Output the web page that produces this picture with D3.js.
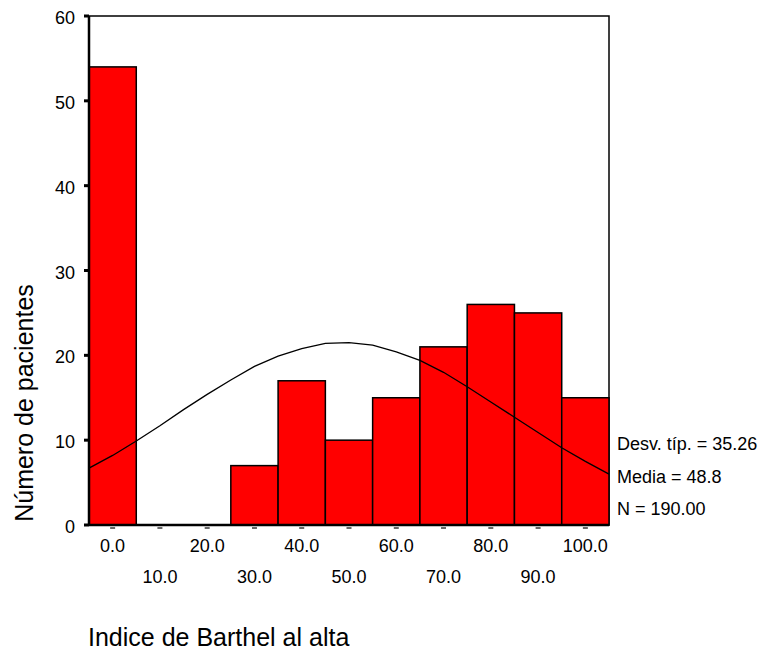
<!DOCTYPE html>
<html>
<head>
<meta charset="utf-8">
<script src="https://cdn.jsdelivr.net/npm/d3@7"></script>
<style>
  body { margin: 0; background: #fff; }
  svg text { font-family: "Liberation Sans", Arial, sans-serif; fill: #000; }
</style>
</head>
<body>
<div id="chart"></div>
<script>
// histogram bins (midpoints) and counts
const bins = [0, 10, 20, 30, 40, 50, 60, 70, 80, 90, 100];
const counts = [54, 0, 0, 7, 17, 10, 15, 21, 26, 25, 15];
// normal curve
const curveX = [-5, 0, 5, 10, 15, 20, 25, 30, 35, 40, 45, 50, 55, 60, 65, 70, 75, 80, 85, 90, 95, 100, 105];
const curveY = [6.7, 8.2, 9.9, 11.7, 13.6, 15.4, 17.1, 18.7, 19.9, 20.8, 21.4, 21.5, 21.2, 20.4, 19.4, 18.0, 16.3, 14.5, 12.7, 10.9, 9.1, 7.5, 6.0];
const yTicks = [0, 10, 20, 30, 40, 50, 60];
const statLines = ["Desv. típ. = 35.26", "Media = 48.8", "N = 190.00"];

const width = 770, height = 652;
const plotLeft = 89, plotRight = 609, plotTop = 16, plotBottom = 525;

const svg = d3.select("#chart").append("svg")
    .attr("width", width)
    .attr("height", height);

const x = d3.scaleLinear().domain([-5, 105]).range([plotLeft, plotRight]);
const y = d3.scaleLinear().domain([0, 60]).range([plotBottom, plotTop]);
const binW = x(10) - x(0);

// frame
svg.append("rect")
    .attr("x", plotLeft).attr("y", plotTop)
    .attr("width", plotRight - plotLeft).attr("height", plotBottom - plotTop)
    .attr("fill", "none").attr("stroke", "#000").attr("stroke-width", 1.5);

// bars
svg.append("g")
    .selectAll("rect")
    .data(bins.map((b, i) => ({ b, c: counts[i] })).filter((d) => d.c > 0))
    .join("rect")
    .attr("x", (d) => x(d.b) - binW / 2)
    .attr("y", (d) => y(d.c))
    .attr("width", binW)
    .attr("height", (d) => y(0) - y(d.c))
    .attr("fill", "#ff0000")
    .attr("stroke", "#000")
    .attr("stroke-width", 1.5);

// normal curve
const line = d3.line()
    .x((d, i) => x(curveX[i]))
    .y((d) => y(d));
svg.append("path")
    .attr("d", line(curveY))
    .attr("fill", "none")
    .attr("stroke", "#000")
    .attr("stroke-width", 1.3);

// axes lines
svg.append("line")
    .attr("x1", plotLeft).attr("x2", plotLeft).attr("y1", plotTop).attr("y2", plotBottom)
    .attr("stroke", "#000").attr("stroke-width", 2.5);
svg.append("line")
    .attr("x1", plotLeft).attr("x2", plotRight).attr("y1", plotBottom).attr("y2", plotBottom)
    .attr("stroke", "#000").attr("stroke-width", 2.5);

// y axis ticks and labels
const yg = svg.append("g");
yg.selectAll("rect")
    .data(yTicks)
    .join("rect")
    .attr("x", plotLeft - 5).attr("y", (d) => y(d) - 1.5)
    .attr("width", 5).attr("height", 3)
    .attr("fill", "#000");
yg.selectAll("text")
    .data(yTicks)
    .join("text")
    .attr("x", 75)
    .attr("y", (d) => y(d) + 8)
    .attr("text-anchor", "end")
    .style("font-size", "18px")
    .text((d) => d);

// x axis ticks and labels
const xg = svg.append("g");
xg.selectAll("line")
    .data(bins)
    .join("line")
    .attr("x1", (d) => x(d) - 2.5).attr("x2", (d) => x(d) + 2.5)
    .attr("y1", plotBottom + 3).attr("y2", plotBottom + 3)
    .attr("stroke", "#000").attr("stroke-width", 1.2);
xg.selectAll("text")
    .data(bins)
    .join("text")
    .attr("x", (d) => x(d))
    .attr("y", (d, i) => (i % 2 === 0 ? 552 : 583))
    .attr("text-anchor", "middle")
    .style("font-size", "18px")
    .text((d) => d.toFixed(1));

// statistics
svg.append("g")
    .selectAll("text")
    .data(statLines)
    .join("text")
    .attr("x", 617)
    .attr("y", (d, i) => 450 + i * 32.5)
    .style("font-size", "18px")
    .text((d) => d);

// axis titles
svg.append("text")
    .attr("transform", "translate(33,403) rotate(-90)")
    .attr("text-anchor", "middle")
    .style("font-size", "25px")
    .text("Número de pacientes");
svg.append("text")
    .attr("x", 88)
    .attr("y", 646)
    .style("font-size", "25px")
    .text("Indice de Barthel al alta");
</script>
</body>
</html>
